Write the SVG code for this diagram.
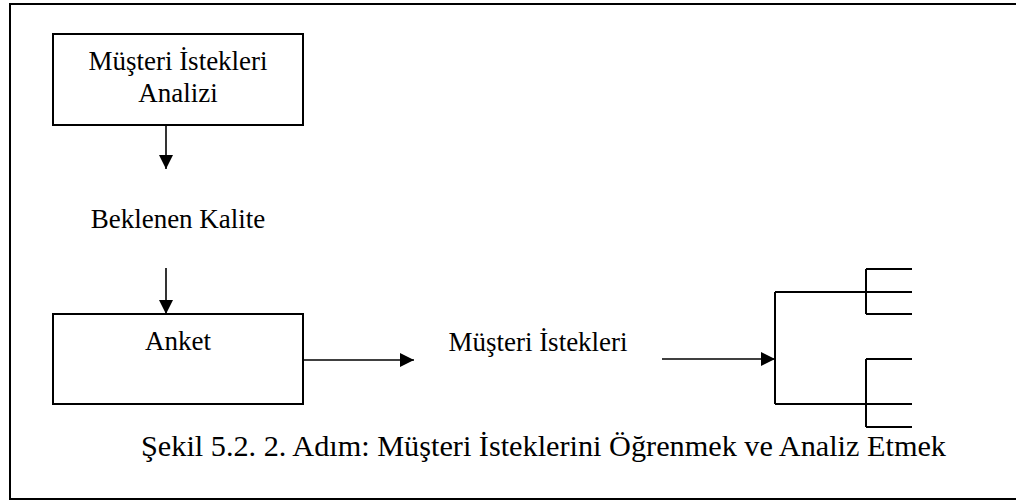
<svg xmlns="http://www.w3.org/2000/svg" width="1016" height="501" viewBox="0 0 1016 501">
  <defs>
    <marker id="arrow" markerUnits="userSpaceOnUse" markerWidth="15" markerHeight="15" refX="14" refY="7" orient="auto">
      <path d="M0,0 L14,7 L0,14 z" fill="#000"/>
    </marker>
  </defs>
  <style>
    .frame { fill: none; stroke: #000; stroke-width: 2; }
    .box { fill: #fff; stroke: #000; stroke-width: 2; }
    .label { font-family: "Liberation Serif", "Times New Roman", serif; font-size: 27px; fill: #000; text-anchor: middle; }
    .caption { font-family: "Liberation Serif", "Times New Roman", serif; font-size: 30px; fill: #000; }
    .conn { fill: none; stroke: #000; stroke-width: 1.6; }
    .tree { fill: none; stroke: #000; stroke-width: 2; }
  </style>
  <rect width="1016" height="501" fill="#fff"/>

  <!-- outer frame, open on the right -->
  <path class="frame" d="M1017,4 H10 V499 H1017"/>

  <g id="node-analiz">
    <rect class="box" x="53" y="34" width="250" height="91"/>
    <text class="label" x="178" y="70">Müşteri İstekleri</text>
    <text class="label" x="178" y="102">Analizi</text>
  </g>

  <g id="node-beklenen">
    <text class="label" x="178" y="228">Beklenen Kalite</text>
  </g>

  <g id="node-anket">
    <rect class="box" x="53" y="314" width="250" height="90"/>
    <text class="label" x="178" y="350">Anket</text>
  </g>

  <g id="node-istekler">
    <text class="label" x="538" y="351">Müşteri İstekleri</text>
  </g>

  <g id="node-tree">
    <path class="tree" d="M775,292 V404 M775,292 H912 M775,404 H912"/>
    <path class="tree" d="M866,269 V314 M866,269 H912 M866,314 H912"/>
    <path class="tree" d="M866,359 V427 M866,359 H912 M866,427 H912"/>
  </g>

  <g id="connectors">
    <path class="conn" d="M166,125 V169" marker-end="url(#arrow)"/>
    <path class="conn" d="M166,268 V314" marker-end="url(#arrow)"/>
    <path class="conn" d="M303,360 H414" marker-end="url(#arrow)"/>
    <path class="conn" d="M662,359 H775" marker-end="url(#arrow)"/>
  </g>

  <g id="caption">
    <text class="caption" x="141" y="456" textLength="805" lengthAdjust="spacingAndGlyphs">Şekil 5.2. 2. Adım: Müşteri İsteklerini Öğrenmek ve Analiz Etmek</text>
  </g>
</svg>
